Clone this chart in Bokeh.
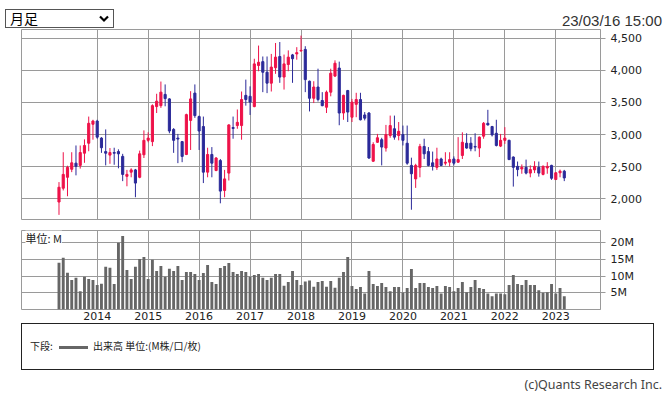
from bokeh.plotting import figure
from bokeh.models import Range1d, FixedTicker, NumeralTickFormatter, Label, Div, ColumnDataSource
from bokeh.layouts import column
from bokeh.embed import file_html
from bokeh.resources import INLINE

# Monthly candles, Apr 2013 .. Mar 2023 (index 0 = 2013-04)
start_year, start_month = 2013, 4
opens = [1950, 2165, 2335, 2460, 2555, 2520, 2710, 2865, 3160, 3210,
         2945, 2735, 2680, 2720, 2735, 2660, 2350, 2415, 2450, 2335,
         2685, 2910, 2890, 3435, 3450, 3625, 3555, 3080, 2945, 2890,
         2690, 3220, 3645, 3280, 3125, 2415, 2690, 2440, 2595, 2130,
         2400, 3110, 3140, 3140, 3610, 3595, 3435, 4075, 4135, 3970,
         3800, 4040, 4215, 3895, 4090, 4240, 4255, 4300, 4325, 3830,
         3565, 3740, 3530, 3425, 3660, 3910, 4035, 3335, 3685, 3270,
         3470, 3545, 3305, 3335, 2585, 2880, 2920, 2790, 2985, 3090,
         2985, 3000, 2865, 2520, 2310, 2490, 2815, 2735, 2560, 2490,
         2620, 2555, 2570, 2620, 2570, 2675, 2865, 2865, 2815, 2790,
         2975, 3175, 3125, 3020, 2820, 2910, 2910, 2650, 2505, 2465,
         2490, 2400, 2450, 2490, 2380, 2480, 2520, 2300, 2405, 2430]
closes = [2180, 2380, 2490, 2560, 2505, 2720, 2830, 3175, 3210, 2960,
          2795, 2710, 2720, 2710, 2700, 2380, 2380, 2450, 2245, 2700,
          2910, 2945, 3450, 3520, 3660, 3560, 3055, 2910, 2930, 2660,
          3310, 3555, 3295, 3055, 2415, 2690, 2555, 2635, 2120, 2310,
          3150, 3095, 3190, 3545, 3545, 3505, 4100, 4125, 3970, 3800,
          4050, 4205, 3895, 4100, 4205, 4180, 4275, 4310, 3855, 3565,
          3740, 3545, 3450, 3660, 3955, 4110, 3335, 3610, 3350, 3505,
          3545, 3230, 3255, 2635, 2845, 2950, 2805, 3000, 3140, 2960,
          3050, 2910, 2555, 2390, 2520, 2815, 2700, 2520, 2505, 2620,
          2520, 2570, 2610, 2555, 2610, 2880, 2790, 2780, 2805, 2960,
          3175, 3150, 2995, 2830, 2910, 2945, 2610, 2490, 2455, 2490,
          2400, 2455, 2505, 2400, 2505, 2505, 2320, 2405, 2430, 2325]
highs = [2260, 2725, 2515, 2725, 2830, 2830, 2925, 3280, 3230, 3230,
         2960, 3080, 2790, 2795, 2770, 2700, 2450, 2475, 2465, 2750,
         3065, 3035, 3470, 3635, 3825, 3780, 3565, 3100, 3010, 2900,
         3325, 3675, 3780, 3295, 3280, 2795, 2805, 2650, 2620, 2450,
         3160, 3280, 3390, 3670, 3855, 3750, 4180, 4385, 4215, 4215,
         4255, 4425, 4440, 4245, 4310, 4255, 4360, 4540, 4375, 3840,
         3830, 4025, 3660, 3685, 4025, 4155, 4135, 3620, 3695, 3555,
         3650, 3650, 3350, 3350, 2880, 3010, 2950, 3150, 3295, 3295,
         3195, 3140, 3140, 2640, 2545, 2855, 2935, 2805, 2735, 2795,
         2640, 2725, 2725, 2660, 2960, 3035, 3020, 2960, 3020, 2970,
         3195, 3385, 3135, 3230, 3010, 3115, 2920, 2660, 2580, 2535,
         2610, 2520, 2585, 2580, 2520, 2570, 2530, 2415, 2455, 2450]
lows = [1750, 2130, 2040, 2415, 2365, 2470, 2560, 2740, 2920, 2935,
        2715, 2520, 2545, 2530, 2475, 2275, 2195, 2335, 2025, 2320,
        2635, 2880, 2820, 3335, 3415, 3440, 3020, 2715, 2555, 2570,
        2680, 2760, 3260, 2760, 2245, 2335, 2335, 2430, 1930, 2025,
        2285, 2935, 3090, 2920, 3450, 3305, 3425, 3985, 3660, 3645,
        3670, 3945, 3805, 3700, 3985, 3805, 4165, 4295, 3660, 3360,
        3490, 3515, 3440, 3335, 3595, 3895, 3145, 3230, 3195, 3195,
        3270, 3220, 3220, 2620, 2575, 2870, 2520, 2735, 2950, 2920,
        2910, 2830, 2530, 1830, 2170, 2335, 2620, 2505, 2440, 2450,
        2510, 2520, 2505, 2520, 2560, 2620, 2780, 2740, 2740, 2650,
        2935, 3140, 2970, 2815, 2805, 2855, 2605, 2190, 2350, 2390,
        2380, 2335, 2400, 2345, 2365, 2390, 2295, 2295, 2335, 2275]
volumes = [14.0, 15.5, 11.0, 8.8, 9.5, 5.5, 9.8, 9.1, 8.8, 7.3,
           7.7, 12.8, 12.5, 7.6, 20.0, 22.0, 11.8, 9.1, 12.8, 15.1,
           15.7, 9.1, 14.9, 11.5, 13.0, 9.8, 12.2, 11.5, 13.0, 8.8,
           11.2, 11.2, 10.6, 8.8, 10.9, 13.3, 8.2, 7.6, 12.4, 13.0,
           13.9, 11.2, 10.6, 11.5, 11.2, 9.8, 10.3, 10.6, 9.5, 8.8,
           9.5, 10.6, 10.6, 7.1, 8.2, 11.5, 8.8, 7.3, 8.4, 8.7,
           6.8, 8.2, 8.5, 6.8, 8.5, 6.5, 9.5, 11.2, 15.7, 7.0,
           6.1, 6.7, 4.8, 11.5, 7.6, 7.0, 7.9, 6.7, 5.5, 6.7,
           6.7, 5.1, 6.4, 12.1, 6.4, 7.9, 7.9, 6.7, 6.4, 7.0,
           4.8, 7.0, 6.7, 5.5, 6.4, 8.2, 5.2, 6.7, 8.8, 6.4,
           6.1, 4.8, 4.0, 4.8, 4.8, 4.6, 7.3, 10.3, 7.6, 7.3,
           8.8, 7.3, 7.3, 5.8, 5.0, 5.2, 7.6, 4.8, 6.4, 4.0]
year_labels = ["2014", "2015", "2016", "2017", "2018", "2019", "2020", "2021", "2022", "2023"]
price_ticks = [2000, 2500, 3000, 3500, 4000, 4500]
volume_ticks = [5, 10, 15, 20]
volume_tick_labels = ["5M", "10M", "15M", "20M"]

UP = "#EE1249"
DOWN = "#2B2A99"
GRID = "#9a9a9a"

n = len(opens)
xs = list(range(n))
year_ticks = [(int(y) - start_year) * 12 + (1 - start_month) for y in year_labels]
colors = [UP if c >= o else DOWN for o, c in zip(opens, closes)]
src = ColumnDataSource(dict(
    x=xs, o=opens, c=closes, h=highs, l=lows,
    top=[max(o, c) for o, c in zip(opens, closes)],
    bot=[min(o, c) for o, c in zip(opens, closes)],
    col=colors, v=volumes))

x_rng = Range1d(-8.83, 127.53)

def style(p):
    p.outline_line_color = GRID
    p.outline_line_width = 1
    p.xgrid.ticker = FixedTicker(ticks=year_ticks)
    p.xgrid.grid_line_color = GRID
    p.ygrid.grid_line_color = GRID
    p.background_fill_color = "white"
    p.border_fill_color = "white"

# ---- price panel
p1 = figure(frame_width=579, frame_height=190, x_range=x_rng,
            y_range=Range1d(1678, 4635), x_axis_location=None,
            y_axis_location="right", toolbar_location=None,
            output_backend="svg", min_border_left=13, min_border_right=64,
            min_border_top=1, min_border_bottom=5, margin=0)
style(p1)
p1.ygrid.ticker = FixedTicker(ticks=price_ticks)
ya = p1.yaxis[0]
ya.ticker = FixedTicker(ticks=price_ticks)
ya.formatter = NumeralTickFormatter(format="0,0")
ya.axis_line_color = GRID
ya.major_tick_line_color = GRID
ya.major_tick_out = 5
ya.major_tick_in = 0
ya.minor_tick_line_color = None
ya.major_label_standoff = 5
ya.major_label_text_font = "DejaVu Sans"
ya.major_label_text_font_size = "11px"
ya.major_label_text_color = "#222222"

p1.segment(x0="x", y0="l", x1="x", y1="h", source=src, line_color="col", line_width=1)
p1.vbar(x="x", width=0.5, top="top", bottom="bot", source=src,
        fill_color="col", line_color="col", line_width=1)

# ---- volume panel
p2 = figure(frame_width=579, frame_height=79, x_range=x_rng,
            y_range=Range1d(0, 23.65), y_axis_location="right",
            toolbar_location=None, output_backend="svg",
            min_border_left=13, min_border_right=64, min_border_top=6,
            min_border_bottom=14, margin=0)
style(p2)
p2.ygrid.ticker = FixedTicker(ticks=volume_ticks)
va = p2.yaxis[0]
va.ticker = FixedTicker(ticks=volume_ticks)
va.major_label_overrides = {t: s for t, s in zip(volume_ticks, volume_tick_labels)}
va.axis_line_color = GRID
va.major_tick_line_color = GRID
va.major_tick_out = 5
va.major_tick_in = 0
va.minor_tick_line_color = None
va.major_label_standoff = 5
va.major_label_text_font = "DejaVu Sans"
va.major_label_text_font_size = "11px"
va.major_label_text_color = "#222222"
xa = p2.xaxis[0]
xa.ticker = FixedTicker(ticks=year_ticks)
xa.major_label_overrides = {t: s for t, s in zip(year_ticks, year_labels)}
xa.axis_line_color = None
xa.major_tick_line_color = None
xa.minor_tick_line_color = None
xa.major_tick_out = 0
xa.major_tick_in = 0
xa.major_label_standoff = 2
xa.major_label_text_font = "DejaVu Sans"
xa.major_label_text_font_size = "11px"
xa.major_label_text_color = "#222222"

p2.vbar(x="x", width=0.68, top="v", bottom=0, source=src,
        fill_color="#666666", line_color=None)
p2.add_layout(Label(x=-7.9, y=21.3, text="単位: M", text_font="Noto Sans CJK JP",
                    text_font_size="11px", text_color="#222222",
                    text_baseline="middle", text_align="left",
                    background_fill_color="white"))

# ---- header, legend, copyright
header = Div(text=(
    '<div style="position:relative;width:656px;height:20px;">'
    '<div style="position:absolute;left:-3px;top:1px;width:109px;height:19px;'
    'box-sizing:border-box;border:1px solid #555;background:#fff;">'
    '<span style="position:absolute;left:4px;top:0px;font-size:14px;line-height:17px;'
    'font-family:\'Noto Sans CJK JP\';color:#000;">月足</span>'
    '<svg style="position:absolute;left:93px;top:5px" width="10" height="8">'
    '<polyline points="1,1.5 5,5.5 9,1.5" fill="none" stroke="#000" stroke-width="2.2"/></svg>'
    '</div>'
    '<span style="position:absolute;right:2px;top:2px;font-size:15px;'
    'font-family:\'Liberation Sans\';color:#333;">23/03/16 15:00</span></div>'),
    width=656, height=20, margin=0)

legend = Div(text=(
    '<div style="box-sizing:border-box;width:633px;height:47px;border:1px solid #222;'
    'font-family:\'Noto Sans CJK JP\';font-size:10px;color:#222;padding:15px 0 0 8px;'
    'line-height:14px;">下段: '
    '<span style="display:inline-block;width:29px;height:3px;background:#666;'
    'vertical-align:middle;margin:0 5px 0 4px;"></span>出来高 単位:(M株/口/枚)</div>'),
    width=633, height=47, margin=(0, 0, 0, 13))

copy = Div(text=(
    '<div style="width:654px;text-align:right;font-family:\'Noto Sans\';'
    'font-size:12.5px;color:#444;padding-top:6px;">(c)Quants Research Inc.</div>'),
    width=656, height=18, margin=0)

layout = column(header, p1, p2, legend, copy, spacing=0, margin=(8, 0, 0, 8))
open("out.html", "w").write(file_html(layout, INLINE))
